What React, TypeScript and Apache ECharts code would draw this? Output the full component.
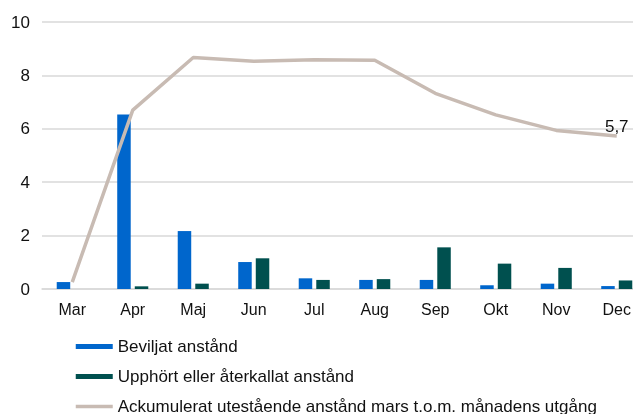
import React, { useEffect, useRef } from "react";
import * as echarts from "echarts";

const months = ["Mar", "Apr", "Maj", "Jun", "Jul", "Aug", "Sep", "Okt", "Nov", "Dec"];
const beviljat = [0.26, 6.54, 2.17, 1.01, 0.4, 0.34, 0.34, 0.14, 0.2, 0.11];
const upphort = [0, 0.1, 0.2, 1.15, 0.34, 0.37, 1.56, 0.95, 0.79, 0.32];
const ackumulerat = [0.26, 6.7, 8.67, 8.53, 8.59, 8.57, 7.33, 6.52, 5.94, 5.73];
const yTicks = [0, 2, 4, 6, 8, 10];
const names = [
  "Beviljat anstånd",
  "Upphört eller återkallat anstånd",
  "Ackumulerat utestående anstånd mars t.o.m. månadens utgång",
];

export default function App() {
  const ref = useRef<HTMLDivElement>(null);
  useEffect(() => {
    if (!ref.current) return;
    const chart = echarts.init(ref.current, null, { renderer: "svg" });
    const font = "'Liberation Sans', Arial, sans-serif";
    chart.setOption({
      animation: false,
      textStyle: { fontFamily: font },
      grid: { left: 42, right: -14, top: 22, bottom: 125, containLabel: false, outerBoundsMode: "none" },
      legend: {
        orient: "vertical",
        left: 74,
        top: 338,
        width: 555,
        height: 90,
        padding: 0,
        itemWidth: 37,
        itemHeight: 5,
        itemGap: 13,
        textStyle: { fontSize: 17, color: "#111", fontFamily: font },
        data: [
          { name: names[0], icon: "rect" },
          { name: names[1], icon: "rect" },
          { name: names[2], itemStyle: { opacity: 0 }, lineStyle: { width: 3.5 } },
        ],
      },
      xAxis: {
        type: "category",
        data: months,
        axisLine: { show: true, lineStyle: { color: "#d9d9d9", width: 1.5 } },
        axisTick: { show: false },
        axisLabel: { fontSize: 16, color: "#111", margin: 12, fontFamily: font },
      },
      yAxis: {
        type: "value",
        min: yTicks[0],
        max: yTicks[yTicks.length - 1],
        interval: 2,
        axisLine: { show: false },
        axisTick: { show: false },
        axisLabel: { fontSize: 17, color: "#111", margin: 12, fontFamily: font },
        splitLine: { lineStyle: { color: "#d9d9d9", width: 1.5 } },
      },
      series: [
        {
          name: names[0],
          type: "bar",
          data: beviljat,
          barWidth: 13.5,
          barGap: "30%",
          itemStyle: { color: "#0066cc" },
        },
        {
          name: names[1],
          type: "bar",
          data: upphort,
          barWidth: 13.5,
          barGap: "30%",
          itemStyle: { color: "#00504f" },
        },
        {
          name: names[2],
          type: "line",
          data: ackumulerat,
          symbol: "circle",
          symbolSize: 0.01,
          showSymbol: true,
          label: {
            show: true,
            position: "top",
            distance: 1,
            fontSize: 17,
            color: "#111",
            fontFamily: font,
            formatter: (p: any) =>
              p.dataIndex === ackumulerat.length - 1 ? p.value.toFixed(1).replace(".", ",") : "",
          },
          lineStyle: { color: "#c8bbb3", width: 3.5 },
          itemStyle: { color: "#c8bbb3" },
        },
      ],
    });
    return () => chart.dispose();
  }, []);
  return <div ref={ref} style={{ position: "fixed", left: 0, top: 0, width: 633, height: 414 }} />;
}
